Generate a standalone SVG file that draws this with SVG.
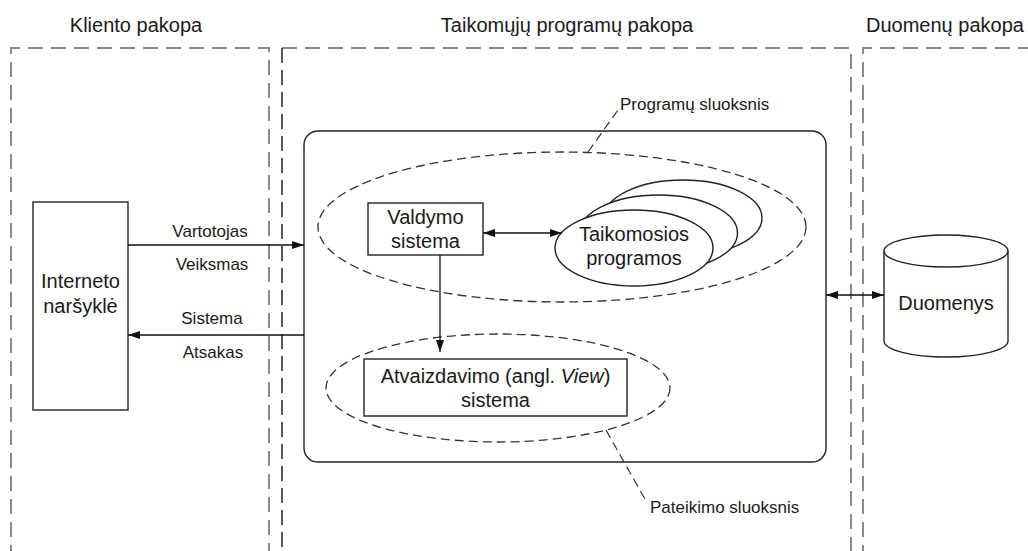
<svg xmlns="http://www.w3.org/2000/svg" width="1028" height="551" viewBox="0 0 1028 551">
  <style>
    text { font-family: "Liberation Sans", Arial, sans-serif; fill: #1a1a1a; }
    .t20 { font-size: 20px; }
    .t17 { font-size: 17px; }
    .tier { fill: none; stroke: #8a8a8a; stroke-width: 2; stroke-dasharray: 15 8; }
    .tierDark { fill: none; stroke: #111; stroke-width: 1.4; stroke-dasharray: 15 7; }
    .solid { fill: #fff; stroke: #222; stroke-width: 1.4; }
    .layer { fill: none; stroke: #333; stroke-width: 1.3; stroke-dasharray: 9 5; }
    .lead { fill: none; stroke: #333; stroke-width: 1.2; stroke-dasharray: 9 5; }
    .conn { fill: none; stroke: #111; stroke-width: 1.3; }
  </style>
  <defs>
    <marker id="arrowEnd" viewBox="0 0 12 8" refX="12" refY="4" markerWidth="12" markerHeight="8" markerUnits="userSpaceOnUse" orient="auto">
      <path d="M0,0 L12,4 L0,8 Z" fill="#111"/>
    </marker>
    <marker id="arrowStart" viewBox="0 0 12 8" refX="0" refY="4" markerWidth="12" markerHeight="8" markerUnits="userSpaceOnUse" orient="auto">
      <path d="M12,0 L0,4 L12,8 Z" fill="#111"/>
    </marker>
  </defs>

  <rect width="1028" height="551" fill="#fff"/>

  <!-- Tiers -->
  <g id="tier-client">
    <path class="tier" d="M11,560 V48 H269 V560"/>
    <text class="t20" x="136" y="32" text-anchor="middle">Kliento pakopa</text>
  </g>
  <g id="tier-application">
    <path class="tier" d="M282,48 H851 V560"/>
    <path class="tierDark" d="M282,48 V560"/>
    <text class="t20" x="567" y="32" text-anchor="middle">Taikomųjų programų pakopa</text>
  </g>
  <g id="tier-data">
    <path class="tier" d="M863,560 V48 H1040"/>
    <text class="t20" x="866" y="32">Duomenų pakopa</text>
  </g>

  <!-- Application server container -->
  <g id="app-container">
    <rect class="solid" x="304" y="131" width="522" height="331" rx="14" ry="14" fill="none"/>
  </g>

  <!-- Application layer -->
  <g id="layer-application">
    <ellipse class="layer" cx="562" cy="227" rx="244" ry="75"/>
    <path class="lead" d="M588,152 L618,110"/>
    <text class="t17" x="620" y="110">Programų sluoksnis</text>
  </g>

  <!-- Presentation layer -->
  <g id="layer-presentation">
    <ellipse class="layer" cx="498" cy="388" rx="172" ry="54"/>
    <path class="lead" d="M606,430 L646,501"/>
    <text class="t17" x="650" y="513">Pateikimo sluoksnis</text>
  </g>

  <!-- Browser -->
  <g id="browser">
    <rect class="solid" x="33" y="202" width="95" height="208"/>
    <text class="t20" x="80.5" y="288" text-anchor="middle">Interneto</text>
    <text class="t20" x="80.5" y="313" text-anchor="middle">naršyklė</text>
  </g>

  <!-- Controller -->
  <g id="controller">
    <rect class="solid" x="368" y="203" width="115" height="52"/>
    <text class="t20" x="425.5" y="224" text-anchor="middle">Valdymo</text>
    <text class="t20" x="425.5" y="248" text-anchor="middle">sistema</text>
  </g>

  <!-- Applications stack -->
  <g id="applications">
    <ellipse class="solid" cx="683" cy="218" rx="79" ry="38"/>
    <ellipse class="solid" cx="658.5" cy="233" rx="79" ry="38"/>
    <ellipse class="solid" cx="634" cy="248" rx="79" ry="38"/>
    <text class="t20" x="634" y="241" text-anchor="middle">Taikomosios</text>
    <text class="t20" x="634" y="265" text-anchor="middle">programos</text>
  </g>

  <!-- View -->
  <g id="view">
    <rect class="solid" x="364" y="359" width="263" height="57"/>
    <text class="t20" x="495.5" y="383" text-anchor="middle">Atvaizdavimo (angl. <tspan font-style="italic">View</tspan>)</text>
    <text class="t20" x="495.5" y="407" text-anchor="middle">sistema</text>
  </g>

  <!-- Database -->
  <g id="database">
    <path class="solid" d="M884,251 V341 A62,16 0 0 0 1008,341 V251"/>
    <ellipse class="solid" cx="946" cy="251" rx="62" ry="16"/>
    <text class="t20" x="946" y="310" text-anchor="middle">Duomenys</text>
  </g>

  <!-- Connectors -->
  <g id="connectors">
    <line class="conn" x1="128" y1="245" x2="304" y2="245" marker-end="url(#arrowEnd)"/>
    <text class="t17" x="210" y="237" text-anchor="middle">Vartotojas</text>
    <text class="t17" x="212" y="270" text-anchor="middle">Veiksmas</text>

    <line class="conn" x1="304" y1="335" x2="128" y2="335" marker-end="url(#arrowEnd)"/>
    <text class="t17" x="212" y="324" text-anchor="middle">Sistema</text>
    <text class="t17" x="213" y="358" text-anchor="middle">Atsakas</text>

    <line class="conn" x1="483" y1="233" x2="562" y2="233" marker-start="url(#arrowStart)" marker-end="url(#arrowEnd)"/>
    <line class="conn" x1="440" y1="255" x2="440" y2="352" marker-end="url(#arrowEnd)"/>
    <line class="conn" x1="826" y1="295" x2="884" y2="295" marker-start="url(#arrowStart)" marker-end="url(#arrowEnd)"/>
  </g>
</svg>
